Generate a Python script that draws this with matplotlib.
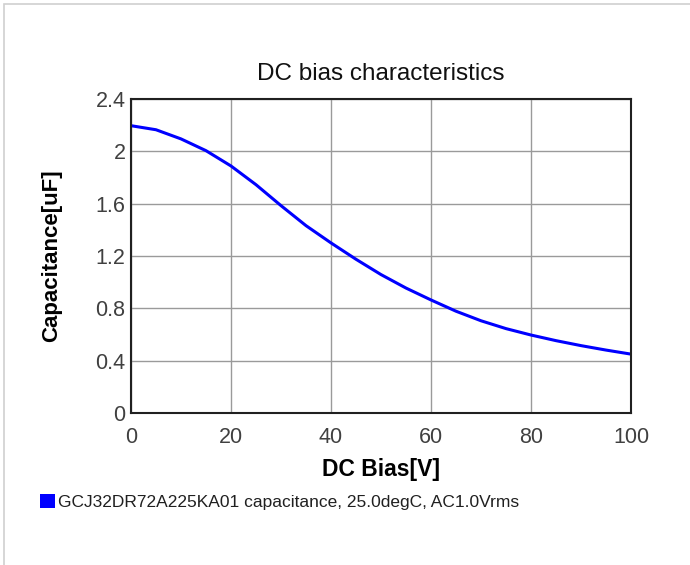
import matplotlib
matplotlib.use("Agg")
import matplotlib.pyplot as plt
from matplotlib.patches import Patch, Rectangle

bias_v = [0, 5, 10, 15, 20, 25, 30, 35, 40, 45, 50,
          55, 60, 65, 70, 75, 80, 85, 90, 95, 100]
capacitance_uf = [2.196, 2.165, 2.095, 2.005, 1.888, 1.745, 1.585, 1.432, 1.30, 1.175, 1.058,
                  0.955, 0.864, 0.778, 0.705, 0.645, 0.596, 0.553, 0.515, 0.481, 0.45]
x_ticks = [0, 20, 40, 60, 80, 100]
y_ticks = [0, 0.4, 0.8, 1.2, 1.6, 2.0, 2.4]
y_tick_labels = ["0", "0.4", "0.8", "1.2", "1.6", "2", "2.4"]
series_name = "GCJ32DR72A225KA01 capacitance, 25.0degC, AC1.0Vrms"

plt.rcParams['font.family'] = ['Liberation Sans', 'DejaVu Sans']

fig = plt.figure(figsize=(6.9, 5.65), dpi=100)
ax = fig.add_axes([131 / 690, 1 - 413 / 565, 500 / 690, 314 / 565])

# light frame around the whole picture (left and top only visible)
fig.patches.append(Rectangle((4 / 690, -0.1), 1.2, 1 - 4 / 565 + 0.1,
                             transform=fig.transFigure, fill=False,
                             edgecolor='#d0d0d0', linewidth=1.2))

ax.plot(bias_v, capacitance_uf, color='#0000ff', linewidth=2.2)

ax.set_xlim(0, 100)
ax.set_ylim(0, 2.4)
ax.set_xticks(x_ticks)
ax.set_yticks(y_ticks)
ax.set_yticklabels(y_tick_labels)
ax.tick_params(axis='both', length=0, labelsize=15.5, labelcolor='#404040')
ax.tick_params(axis='x', pad=10)
ax.tick_params(axis='y', pad=4)
ax.grid(True, color='#9a9a9a', linewidth=1)
for s in ax.spines.values():
    s.set_linewidth(1.5)
    s.set_color('#202020')

ax.set_title("DC bias characteristics", fontsize=17.5, pad=14, color='#111111')
ax.set_xlabel("DC Bias[V]", fontsize=16.5, fontweight='bold', labelpad=7)
ax.set_ylabel("Capacitance[uF]", fontsize=16, fontweight='bold', labelpad=24)

handle = Patch(facecolor='#0000ff', edgecolor='none')
fig.legend([handle], [series_name], loc='center left',
           bbox_to_anchor=(40 / 690, 1 - 502 / 565), frameon=False,
           fontsize=12.5, handlelength=0.85, handleheight=0.85,
           handletextpad=0.2, borderpad=0, borderaxespad=0, labelcolor='#202020')

fig.savefig("out.png", dpi=100)
